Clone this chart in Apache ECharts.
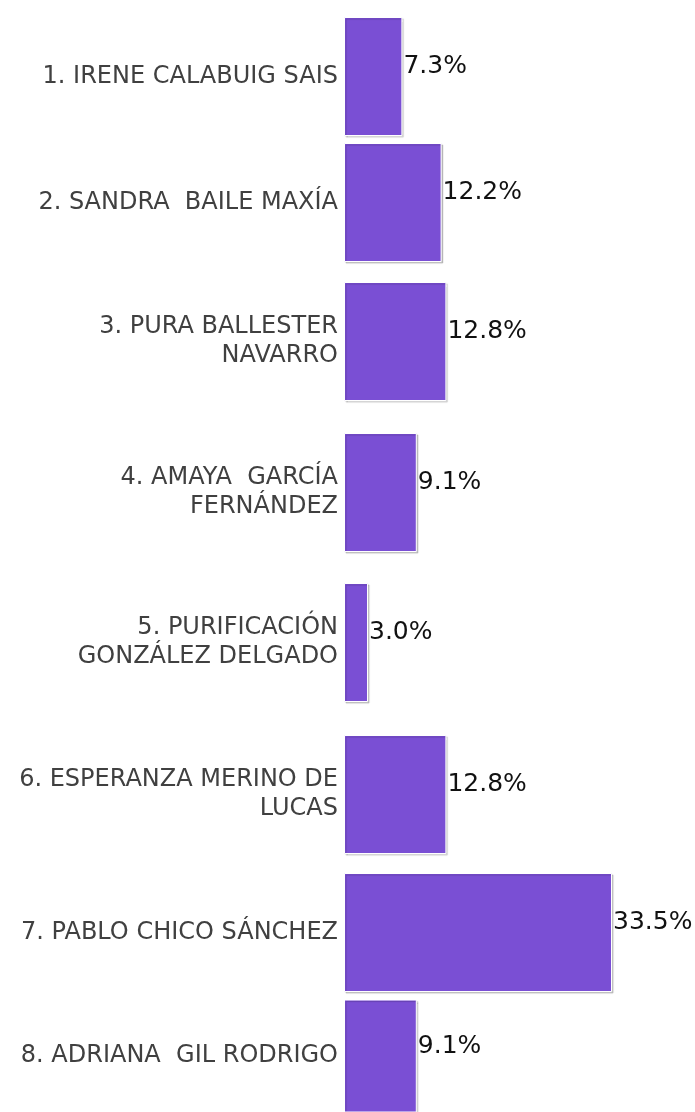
<!DOCTYPE html>
<html>
<head>
<meta charset="utf-8">
<script src="https://cdn.jsdelivr.net/npm/echarts@6/dist/echarts.min.js"></script>
<style>
html,body{margin:0;padding:0;background:#fff;}
#chart{width:695px;height:1112px;}
</style>
</head>
<body>
<div id="chart"></div>
<script>
var categories = [
  "1. IRENE CALABUIG SAIS",
  "2. SANDRA  BAILE MAXÍA",
  "3. PURA BALLESTER\nNAVARRO",
  "4. AMAYA  GARCÍA\nFERNÁNDEZ",
  "5. PURIFICACIÓN\nGONZÁLEZ DELGADO",
  "6. ESPERANZA MERINO DE\nLUCAS",
  "7. PABLO CHICO SÁNCHEZ",
  "8. ADRIANA  GIL RODRIGO"
];
var values = [7.3, 12.2, 12.8, 9.1, 3.0, 12.8, 33.5, 9.1];

// layout: top of each row's band (px)
var rowTops = [17, 143, 282, 433, 583, 735, 873, 1000];
var rowHeight = 119;

var grids = [], xAxes = [], yAxes = [], series = [];
for (var i = 0; i < categories.length; i++) {
  grids.push({left: 344, width: 320, top: rowTops[i], height: rowHeight, containLabel: false});
  xAxes.push({type: 'value', gridIndex: i, min: 0, max: 40, show: false});
  yAxes.push({
    type: 'category', gridIndex: i, data: [categories[i]],
    axisLine: {show: false}, axisTick: {show: false}, splitLine: {show: false},
    axisLabel: {
      color: '#404040', fontSize: 24, fontFamily: 'DejaVu Sans', margin: 6,
      lineHeight: 29, align: 'right'
    }
  });
  series.push({
    type: 'bar', xAxisIndex: i, yAxisIndex: i, data: [values[i]],
    barCategoryGap: '0%', barWidth: rowHeight,
    itemStyle: {
      color: '#7a4fd4', borderColor: '#ffffff', borderWidth: 1,
      shadowColor: 'rgba(0,0,0,0.18)', shadowOffsetX: 1.5, shadowOffsetY: 1.5, shadowBlur: 1
    },
    label: {
      show: true, position: 'right', distance: 1, offset: [0, -10],
      color: '#111', fontSize: 25, fontFamily: 'DejaVu Sans',
      formatter: function (p) { return p.value.toFixed(1) + '%'; }
    },
    silent: true, animation: false
  });
}

var chart = echarts.init(document.getElementById('chart'));
chart.setOption({
  backgroundColor: '#ffffff',
  animation: false,
  grid: grids, xAxis: xAxes, yAxis: yAxes, series: series
});
</script>
</body>
</html>
